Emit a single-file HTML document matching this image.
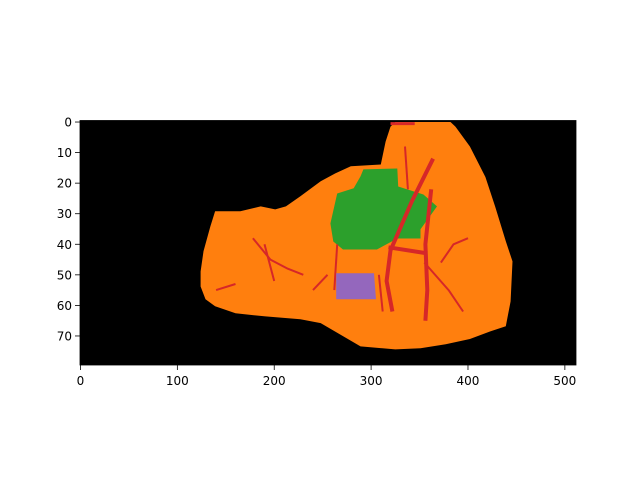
<!DOCTYPE html>
<html><head><meta charset="utf-8"><style>
html,body{margin:0;padding:0;background:#fff;}
svg{display:block;font-family:"DejaVu Sans","Liberation Sans",sans-serif;}
</style></head><body>
<svg id="chart" width="640" height="480">
<g id="plot"></g>
<g id="axes"></g>
</svg>
<script>
const tissueOutline = [[325,0],[382,0],[387,1.5],[402,8],[418,18],[428,27.6],[439,39],[446,45.6],[444,58.7],[439,66.8],[423,68.5],[402,71],[377,72.7],[351,74],[325,74.4],[289,73.4],[248,65.8],[227,64.5],[191,63.6],[160,62.6],[139,60.3],[129,58],[124,53.8],[124,48.9],[127,42.3],[134,34.2],[139,29.2],[165,29.2],[186,27.6],[201,28.6],[212,27.6],[227,24.3],[248,19.4],[263,16.8],[279,14.5],[310,13.9],[315,6.4],[320,1.5]];
const greenRegion = [[292,15.5],[327,15.2],[328,21.1],[354,23.7],[368,27.6],[351,35.1],[351,38.1],[327,38.1],[306,41.7],[271,41.7],[261,39.1],[258,33.2],[265,23.4],[282,21.7],[289,17.8]];
const purpleRegion = [[264,49.5],[303,49.5],[305,58],[264,58]];
const vessels = [
 [[364,12],[342,26],[320,42],[316,52],[322,62]],
 [[362,22],[356,40],[358,55],[356,65]],
 [[318,41],[358,43]],
 [[178,38],[196,45],[214,48],[230,50]],
 [[190,40],[200,52]],
 [[140,55],[160,53]],
 [[265,40],[262,55]],
 [[320,0.5],[345,0.5]],
 [[335,8],[338,22]],
 [[355,46],[380,55],[395,62]],
 [[372,46],[385,40],[400,38]],
 [[240,55],[255,50]],
 [[308,50],[312,62]]
];
const vesselWidths = [4,4,4,2,2,2,2,3,2,2,2,2,2];
const xTicks = [0,100,200,300,400,500];
const yTicks = [0,10,20,30,40,50,60,70];
const X0=80, X1=576, Y0=120.5, Y1=365;
const xs = v => X0 + (v+0.5)/512*(X1-X0);
const ys = v => Y0 + (v+0.5)/80*(Y1-Y0);
const NS="http://www.w3.org/2000/svg";
const plot=document.getElementById('plot'), axes=document.getElementById('axes');
function mk(tag,attrs,parent){const e=document.createElementNS(NS,tag);for(const k in attrs)e.setAttribute(k,attrs[k]);parent.appendChild(e);return e;}
const bg=mk('rect',{x:X0,y:Y0,width:X1-X0,height:Y1-Y0,fill:'#000'},plot);


const pts=a=>a.map(p=>xs(p[0]).toFixed(1)+','+ys(p[1]).toFixed(1)).join(' ');
const t=mk('polygon',{points:pts(tissueOutline),fill:'#ff7f0e'},plot);


const g=mk('polygon',{points:pts(greenRegion),fill:'#2ca02c'},plot);


vessels.forEach((v,i)=>{
 const l=mk('polyline',{points:pts(v),fill:'none',stroke:'#d62728','stroke-width':vesselWidths[i],'stroke-linejoin':'round'},plot);
 
 
});
const p=mk('polygon',{points:pts(purpleRegion),fill:'#9467bd'},plot);


const fr=mk('rect',{x:X0,y:Y0,width:X1-X0,height:Y1-Y0,fill:'none',stroke:'#000','stroke-width':0.8},axes);


xTicks.forEach(v=>{
 const x=xs(v);
 mk('line',{x1:x,x2:x,y1:Y1,y2:Y1+5,stroke:'#000','stroke-width':0.8},axes);
 const tx=mk('text',{x:x,y:Y1+20,'text-anchor':'middle','font-size':12},axes);
 tx.textContent=v;
 
 
});
yTicks.forEach(v=>{
 const y=ys(v);
 mk('line',{x1:X0,x2:X0-5,y1:y,y2:y,stroke:'#000','stroke-width':0.8},axes);
 const tx=mk('text',{x:X0-8,y:y+4.5,'text-anchor':'end','font-size':12},axes);
 tx.textContent=v;
 
 
});
</script>
</body></html>
